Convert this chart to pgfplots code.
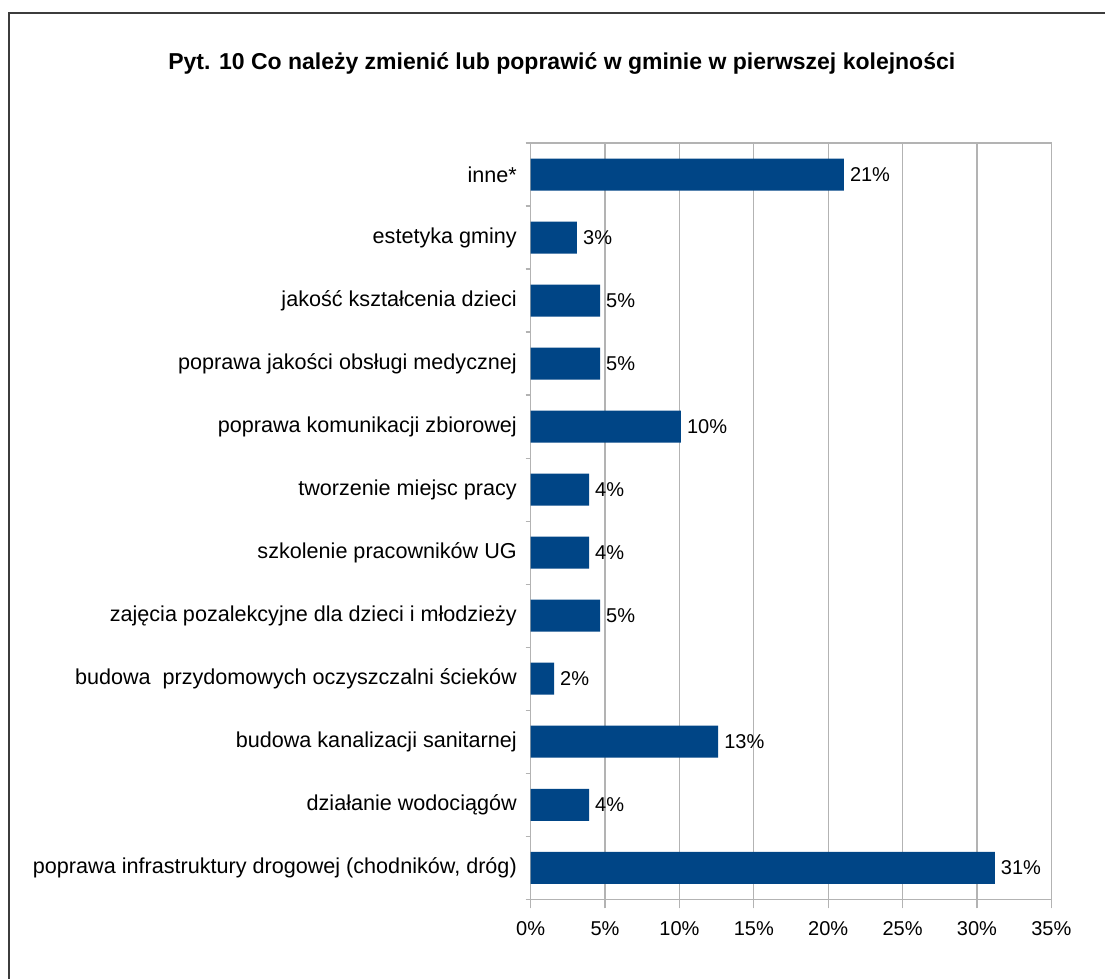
\documentclass[border=0pt]{standalone}
\usepackage{fontspec}
\setmainfont{Liberation Sans}
\usepackage{pgfplots}
\pgfplotsset{compat=1.18}
\definecolor{barblue}{HTML}{004586}
\definecolor{gridgray}{HTML}{B3B3B3}
\definecolor{framegray}{HTML}{3C3C3C}

\begin{document}
\begin{tikzpicture}[x=1pt,y=1pt]
\useasboundingbox (-530.7,-79.7) rectangle (574.3,899.3);
\clip (-530.7,-79.7) rectangle (574.3,899.3);
\fill[white] (-530.7,-79.7) rectangle (574.3,899.3);
\draw[framegray, line width=2pt] (-521.7,886.3) rectangle (620,-120);
\node[font=\bfseries\fontsize{23}{27}\selectfont] at (31.1,835.5)
  {Pyt. 10 Co należy zmienić lub poprawić w gminie w pierwszej kolejności};
\begin{axis}[
    at={(0,0)}, anchor=south west,
    scale only axis,
    width=520.6pt, height=756.3pt,
    xbar,
    bar width=32pt,
    xmin=0, xmax=35,
    ymin=-0.5, ymax=11.5,
    xtick pos=bottom, ytick pos=left,
    xtick={0,5,...,35},
    xticklabel={\pgfmathprintnumber{\tick}\%},
    /pgf/number format/assume math mode=true,
    ytick={0,...,11},
    yticklabels={
        {poprawa infrastruktury drogowej (chodników, dróg)},
        {działanie wodociągów},
        {budowa kanalizacji sanitarnej},
        {budowa\ \ przydomowych oczyszczalni ścieków},
        {zajęcia pozalekcyjne dla dzieci i młodzieży},
        {szkolenie pracowników UG},
        {tworzenie miejsc pracy},
        {poprawa komunikacji zbiorowej},
        {poprawa jakości obsługi medycznej},
        {jakość kształcenia dzieci},
        {estetyka gminy},
        {inne*}},
    minor ytick={-0.5,0.5,...,11.5},
    every major y tick/.append style={draw=none},
    xmajorgrids,
    grid style={gridgray, line width=1.2pt},
    axis line style={gridgray, line width=1.2pt},
    tick style={gridgray, line width=1.2pt},
    tick align=outside,
    major tick length=9pt,
    minor tick length=5pt,
    every tick label/.append style={font=\fontsize{20}{24}\selectfont, text=black},
    yticklabel style={anchor=east, inner sep=0pt, xshift=-4.7pt, font=\fontsize{21.6}{25}\selectfont},
    xticklabel style={anchor=north, inner sep=0pt, yshift=-13pt},
    nodes near coords={\pgfmathprintnumber[fixed,precision=0]{\pgfplotspointmeta}\%},
    nodes near coords style={font=\fontsize{20}{24}\selectfont, text=black, anchor=west, inner sep=0pt, xshift=6pt},
]
\addplot[fill=barblue, draw=none] coordinates {
    (31.2,0) (3.92,1) (12.6,2) (1.57,3) (4.66,4) (3.92,5)
    (3.92,6) (10.1,7) (4.66,8) (4.66,9) (3.11,10) (21.05,11)};
\end{axis}
\end{tikzpicture}
\end{document}
